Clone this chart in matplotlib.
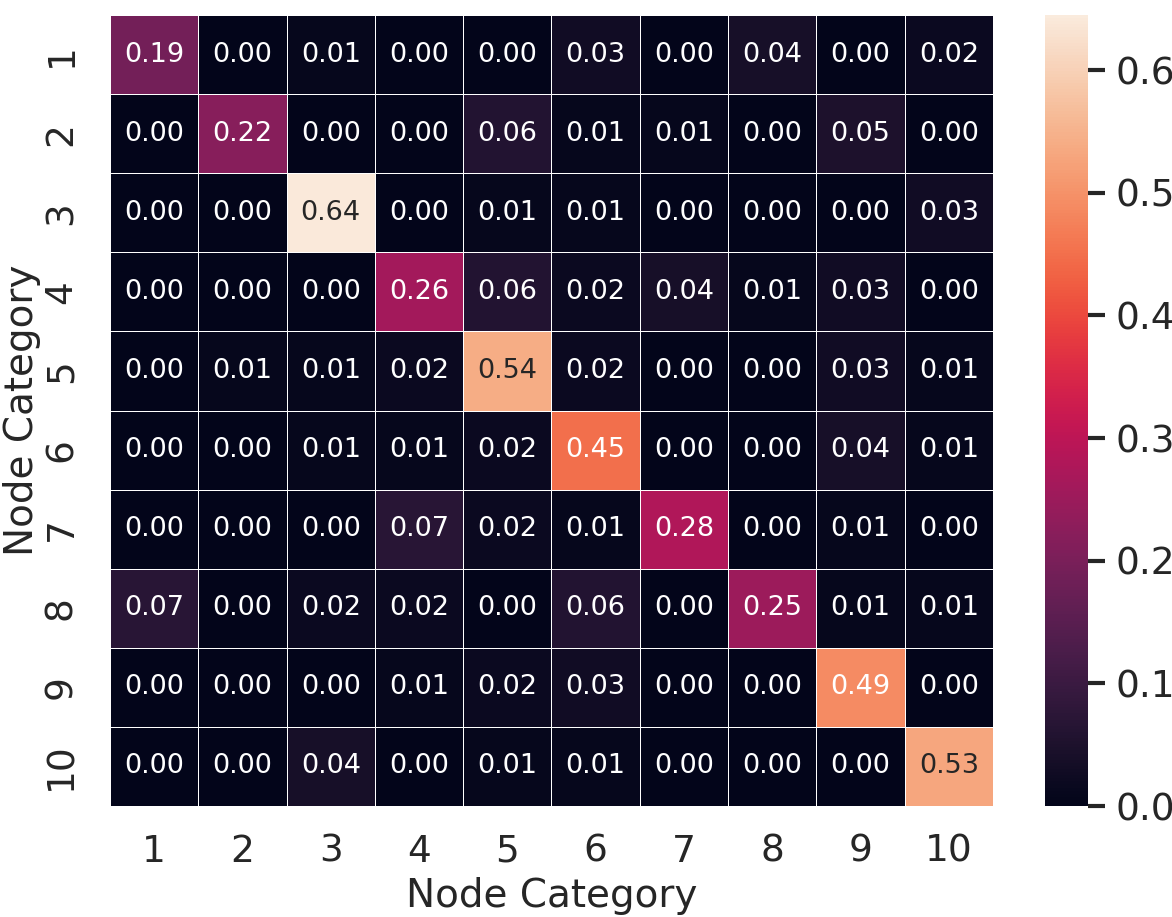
import numpy as np
import matplotlib
matplotlib.use('Agg')
from matplotlib import pyplot as plt
import seaborn as sns

# confusion-style matrix
categories = [str(i) for i in range(1, 11)]
values = [
    [0.19, 0.00, 0.01, 0.00, 0.00, 0.03, 0.00, 0.04, 0.00, 0.02],
    [0.00, 0.22, 0.00, 0.00, 0.06, 0.01, 0.01, 0.00, 0.05, 0.00],
    [0.00, 0.00, 0.64, 0.00, 0.01, 0.01, 0.00, 0.00, 0.00, 0.03],
    [0.00, 0.00, 0.00, 0.26, 0.06, 0.02, 0.04, 0.01, 0.03, 0.00],
    [0.00, 0.01, 0.01, 0.02, 0.54, 0.02, 0.00, 0.00, 0.03, 0.01],
    [0.00, 0.00, 0.01, 0.01, 0.02, 0.45, 0.00, 0.00, 0.04, 0.01],
    [0.00, 0.00, 0.00, 0.07, 0.02, 0.01, 0.28, 0.00, 0.01, 0.00],
    [0.07, 0.00, 0.02, 0.02, 0.00, 0.06, 0.00, 0.25, 0.01, 0.01],
    [0.00, 0.00, 0.00, 0.01, 0.02, 0.03, 0.00, 0.00, 0.49, 0.00],
    [0.00, 0.00, 0.04, 0.00, 0.01, 0.01, 0.00, 0.00, 0.00, 0.53],
]
axis_label = 'Node Category'

sns.set_theme(style='white')
plt.rcParams['font.family'] = ['DejaVu Sans']

fig = plt.figure(figsize=(11.72, 9.17), dpi=100)
ax = fig.add_axes([0.0939, 0.121, 0.7533, 0.8626])
cax = fig.add_axes([0.8916, 0.121, 0.0367, 0.8626])

sns.heatmap(np.array(values), ax=ax, cbar_ax=cax, cmap='rocket',
            vmin=0, vmax=0.645, annot=True, fmt='.2f',
            annot_kws={'fontsize': 19.5},
            linewidths=0.5, linecolor='white',
            xticklabels=categories, yticklabels=categories)

ax.tick_params(axis='x', labelsize=27, length=0, pad=20)
ax.tick_params(axis='y', labelsize=27, length=0, pad=22)
ax.set_yticklabels(categories, rotation=90, va='center')
ax.set_xlabel(axis_label, fontsize=28, labelpad=5)
ax.set_ylabel(axis_label, fontsize=28, labelpad=2)

cax.tick_params(labelsize=27, length=12, width=3, color='#262626', pad=8)
cax.set_yticks([0.0, 0.1, 0.2, 0.3, 0.4, 0.5, 0.6])

fig.savefig('out.png', dpi=100)
